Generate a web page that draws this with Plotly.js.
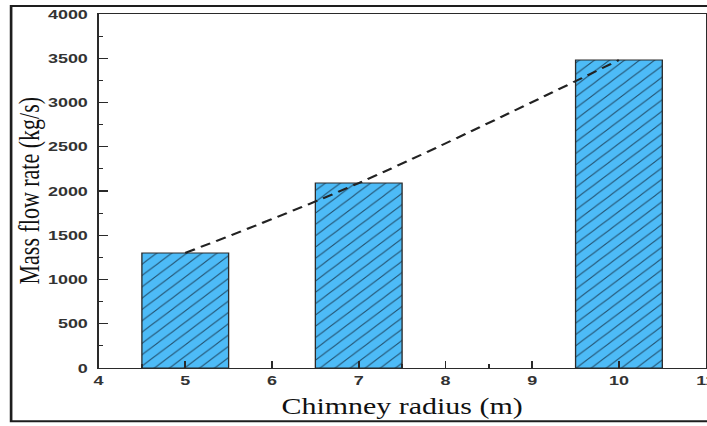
<!DOCTYPE html>
<html>
<head>
<meta charset="utf-8">
<script src="https://cdn.plot.ly/plotly-3.0.1.min.js"></script>
<style>
  html, body { margin: 0; padding: 0; background: #ffffff; overflow: hidden; }
  /* the figure is laid out on a narrower canvas and set wide: stretch it horizontally */
  #chart { width: 531px; height: 426px; transform-origin: 0 0; transform: scaleX(1.33145); }
</style>
</head>
<body>
<div id="chart"></div>
<script>
// Chimney radius (m) and the resulting mass flow rate (kg/s)
const radius = [5, 7, 10];
const massFlow = [1300, 2090, 3480];

const xTicks = [4, 5, 6, 7, 8, 9, 10, 11];
const yTicks = [0, 500, 1000, 1500, 2000, 2500, 3000, 3500, 4000];

const barTrace = {
  type: 'bar',
  x: radius,
  y: massFlow,
  width: 1,
  marker: {
    color: '#4dbbf7',
    line: { color: '#2b2b2b', width: 1 },
    pattern: {
      shape: '/',
      fillmode: 'replace',
      bgcolor: '#4dbbf7',
      fgcolor: '#22506e',
      size: 8,
      solidity: 0.11
    }
  },
  hoverinfo: 'x+y',
  showlegend: false
};

// dashed trend through the bar tops
const trendTrace = {
  type: 'scatter',
  mode: 'lines',
  x: radius,
  y: massFlow,
  line: { color: '#222222', width: 2, dash: '8px,5px', shape: 'spline', smoothing: 1 },
  hoverinfo: 'skip',
  showlegend: false
};

const axisCommon = {
  showgrid: false,
  zeroline: false,
  showline: true,
  linecolor: '#2a2a2a',
  linewidth: 1.3,
  mirror: true,
  ticks: 'inside',
  tickcolor: '#2a2a2a',
  tickwidth: 1.2,
  automargin: false
};

const tickFont = { family: 'Liberation Sans', size: 13.5, color: '#333333', weight: 'bold' };

const layout = {
  width: 531,
  height: 426,
  margin: { l: 74, r: 1, t: 14, b: 58 },
  paper_bgcolor: '#ffffff',
  plot_bgcolor: '#ffffff',
  bargap: 0,
  xaxis: Object.assign({}, axisCommon, {
    range: [4, 11],
    tickmode: 'array',
    tickvals: xTicks,
    ticktext: xTicks.map(String),
    ticklen: 7,
    ticklabeloverflow: 'allow',
    minor: { dtick: 0.5, ticks: 'inside', ticklen: 4, tickcolor: '#2a2a2a', tickwidth: 1.2 },
    tickfont: tickFont,
    title: {
      text: 'Chimney radius (m)',
      font: { family: 'Liberation Serif', size: 22.5, color: '#111111' },
      standoff: 20
    }
  }),
  yaxis: Object.assign({}, axisCommon, {
    range: [0, 4000],
    tickmode: 'array',
    tickvals: yTicks,
    ticktext: yTicks.map(String),
    ticklen: 7,
    ticklabelstandoff: 4,
    minor: { dtick: 250, ticks: 'inside', ticklen: 3.5, tickcolor: '#2a2a2a', tickwidth: 1.2 },
    tickfont: tickFont,
    title: {
      text: 'Mass flow rate (kg/s)',
      font: { family: 'Liberation Serif', size: 22, color: '#111111' },
      standoff: 10
    }
  }),
  shapes: [
    // outer figure frame
    {
      type: 'rect', xref: 'paper', yref: 'paper',
      x0: -0.144, x1: 1.05, y0: -0.1506, y1: 1.0226,
      line: { color: '#1e1e1e', width: 2 },
      fillcolor: 'rgba(0,0,0,0)',
      layer: 'below'
    }
  ]
};

Plotly.newPlot('chart', [barTrace, trendTrace], layout, { displayModeBar: false, staticPlot: true })
  .then(function () {
    // pin the axis titles
    const xt = document.querySelector('.g-xtitle text');
    if (xt) {
      xt.setAttribute('x', 302);
      xt.setAttribute('y', 416.5);
      xt.setAttribute('text-anchor', 'middle');
      xt.removeAttribute('transform');
    }
    const yt = document.querySelector('.g-ytitle text');
    if (yt) {
      const bx = 28, cy = 190.7;
      yt.setAttribute('x', bx);
      yt.setAttribute('y', cy);
      yt.setAttribute('text-anchor', 'middle');
      yt.setAttribute('transform', 'rotate(-90,' + bx + ',' + cy + ')');
    }
  });
</script>
</body>
</html>
